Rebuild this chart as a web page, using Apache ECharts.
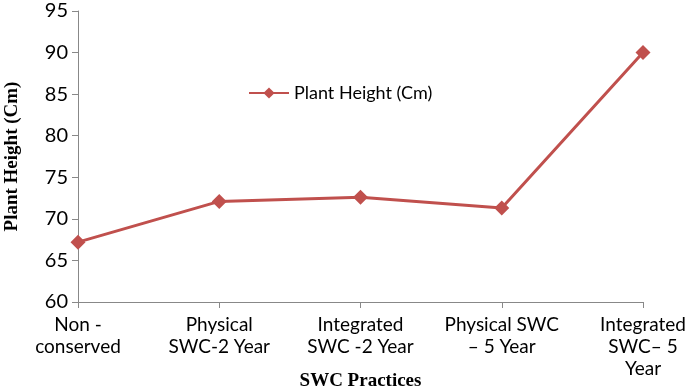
<!DOCTYPE html>
<html>
<head>
<meta charset="utf-8">
<script src="https://cdn.jsdelivr.net/npm/echarts@6/dist/echarts.min.js"></script>
<style>
  * { margin: 0; padding: 0; }
  body { background: #fff; }
</style>
</head>
<body>
<!-- chart container -->
<div id="main" style="width: 685px;height: 392px;"></div>
<script>
var categories = ['Non -\nconserved', 'Physical\nSWC-2 Year', 'Integrated\nSWC -2 Year', 'Physical SWC\n\u2013 5 Year', 'Integrated\nSWC\u2013 5\nYear'];
var plantHeight = [67.2, 72.1, 72.6, 71.3, 90.0];
var yTicks = [60, 65, 70, 75, 80, 85, 90, 95];

var labelFont = 'Lato, "Open Sans", sans-serif';
var titleFont = '"Liberation Serif", "DejaVu Serif", serif';

var chart = echarts.init(document.getElementById('main'));
chart.setOption({
    animation: false,
    grid: { left: 78, right: 42, top: 11, bottom: 90, outerBoundsMode: 'none', containLabel: false },
    legend: {
        left: 243,
        top: 79,
        itemWidth: 40,
        itemHeight: 14,
        itemGap: 5,
        data: ['Plant Height (Cm)'],
        textStyle: { color: '#000', fontSize: 18, fontFamily: labelFont }
    },
    xAxis: {
        type: 'category',
        data: categories,
        boundaryGap: false,
        name: 'SWC Practices',
        nameLocation: 'middle',
        nameGap: 70,
        nameMoveOverlap: false,
        nameTextStyle: { color: '#000', fontSize: 19, fontWeight: 'bold', fontFamily: titleFont },
        axisLine: { lineStyle: { color: '#888', width: 1 } },
        axisTick: { alignWithLabel: true, length: 6, lineStyle: { color: '#888' } },
        axisLabel: { color: '#000', fontSize: 19, fontFamily: labelFont, lineHeight: 22, margin: 12, interval: 0 },
        splitLine: { show: false }
    },
    yAxis: {
        type: 'value',
        min: yTicks[0],
        max: yTicks[yTicks.length - 1],
        interval: 5,
        name: 'Plant Height (Cm)',
        nameLocation: 'middle',
        nameGap: 56,
        nameMoveOverlap: false,
        nameTextStyle: { color: '#000', fontSize: 19, fontWeight: 'bold', fontFamily: titleFont },
        axisLine: { show: true, lineStyle: { color: '#888', width: 1 } },
        axisTick: { show: true, length: 6, lineStyle: { color: '#888' } },
        axisLabel: { color: '#000', fontSize: 20, fontFamily: labelFont, margin: 10 },
        splitLine: { show: false }
    },
    series: [{
        name: 'Plant Height (Cm)',
        type: 'line',
        data: plantHeight,
        symbol: 'diamond',
        symbolSize: 15,
        itemStyle: { color: '#C0504D' },
        lineStyle: { color: '#C0504D', width: 3 }
    }]
});
</script>
</body>
</html>
